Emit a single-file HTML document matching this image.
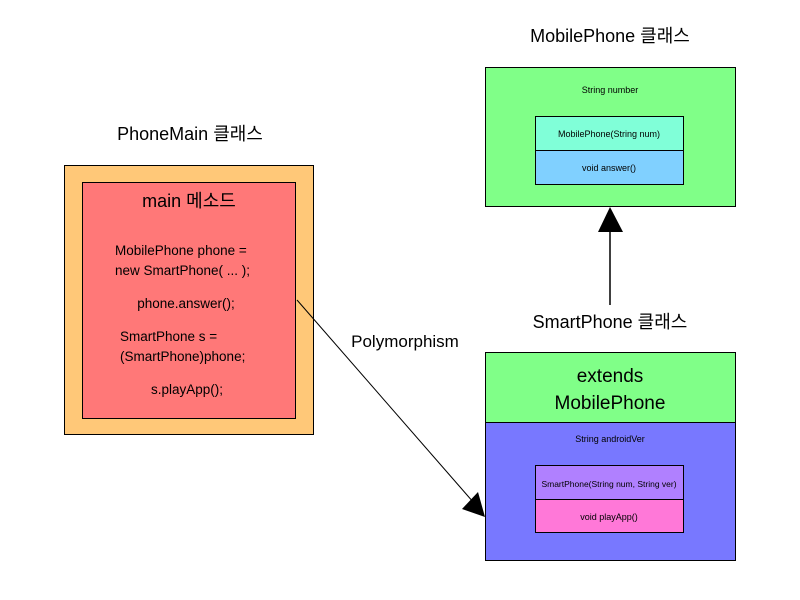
<!DOCTYPE html>
<html><head><meta charset="utf-8"><style>body{margin:0;background:#fff}svg{display:block}text{font-family:"Liberation Sans","Noto Sans CJK KR",sans-serif;fill:#000}</style></head><body>
<svg width="800" height="600" viewBox="0 0 800 600" xmlns="http://www.w3.org/2000/svg">
<text x="610" y="42" font-size="18" text-anchor="middle">MobilePhone 클래스</text>
<rect x="485.5" y="67.5" width="250" height="139" fill="#80ff88" stroke="#000"/>
<text x="610" y="93" font-size="9" text-anchor="middle">String number</text>
<rect x="535.5" y="116.5" width="148" height="34" fill="#80ffd8" stroke="#000"/>
<rect x="535.5" y="150.5" width="148" height="34" fill="#80d0ff" stroke="#000"/>
<text x="609" y="137" font-size="9" text-anchor="middle">MobilePhone(String num)</text>
<text x="609" y="171" font-size="9" text-anchor="middle">void answer()</text>
<line x1="610" y1="230" x2="610" y2="305" stroke="#000" stroke-width="1.5"/>
<polygon points="610,207 598,232 623,232" fill="#000"/>
<text x="610" y="328" font-size="18" text-anchor="middle">SmartPhone 클래스</text>
<rect x="485.5" y="352.5" width="250" height="70" fill="#80ff88" stroke="#000"/>
<rect x="485.5" y="422.5" width="250" height="138" fill="#7878ff" stroke="#000"/>
<text x="610" y="382" font-size="19" text-anchor="middle">extends</text>
<text x="610" y="409" font-size="19" text-anchor="middle">MobilePhone</text>
<text x="610" y="442" font-size="9" text-anchor="middle">String androidVer</text>
<rect x="535.5" y="465.5" width="148" height="34" fill="#b080ff" stroke="#000"/>
<rect x="535.5" y="499.5" width="148" height="33" fill="#ff78d8" stroke="#000"/>
<text x="609" y="487" font-size="8.5" text-anchor="middle">SmartPhone(String num, String ver)</text>
<text x="609" y="520" font-size="9" text-anchor="middle">void playApp()</text>
<text x="190" y="140" font-size="18" text-anchor="middle">PhoneMain 클래스</text>
<rect x="64.5" y="165.5" width="249" height="269" fill="#ffc878" stroke="#000"/>
<rect x="82.5" y="182.5" width="213" height="236" fill="#ff7878" stroke="#000"/>
<text x="189" y="207" font-size="18" text-anchor="middle">main 메소드</text>
<text x="115" y="255" font-size="13.5">MobilePhone phone =</text>
<text x="115" y="275" font-size="13.5">new SmartPhone( ... );</text>
<text x="186" y="308" font-size="13.5" text-anchor="middle">phone.answer();</text>
<text x="120" y="341" font-size="13.5">SmartPhone s =</text>
<text x="120" y="361" font-size="13.5">(SmartPhone)phone;</text>
<text x="187" y="394" font-size="13.5" text-anchor="middle">s.playApp();</text>
<text x="405" y="347" font-size="17" text-anchor="middle">Polymorphism</text>
<line x1="297" y1="300" x2="474" y2="503" stroke="#000" stroke-width="1"/>
<polygon points="485,517 462,509 478,492" fill="#000"/>
</svg>
</body></html>
